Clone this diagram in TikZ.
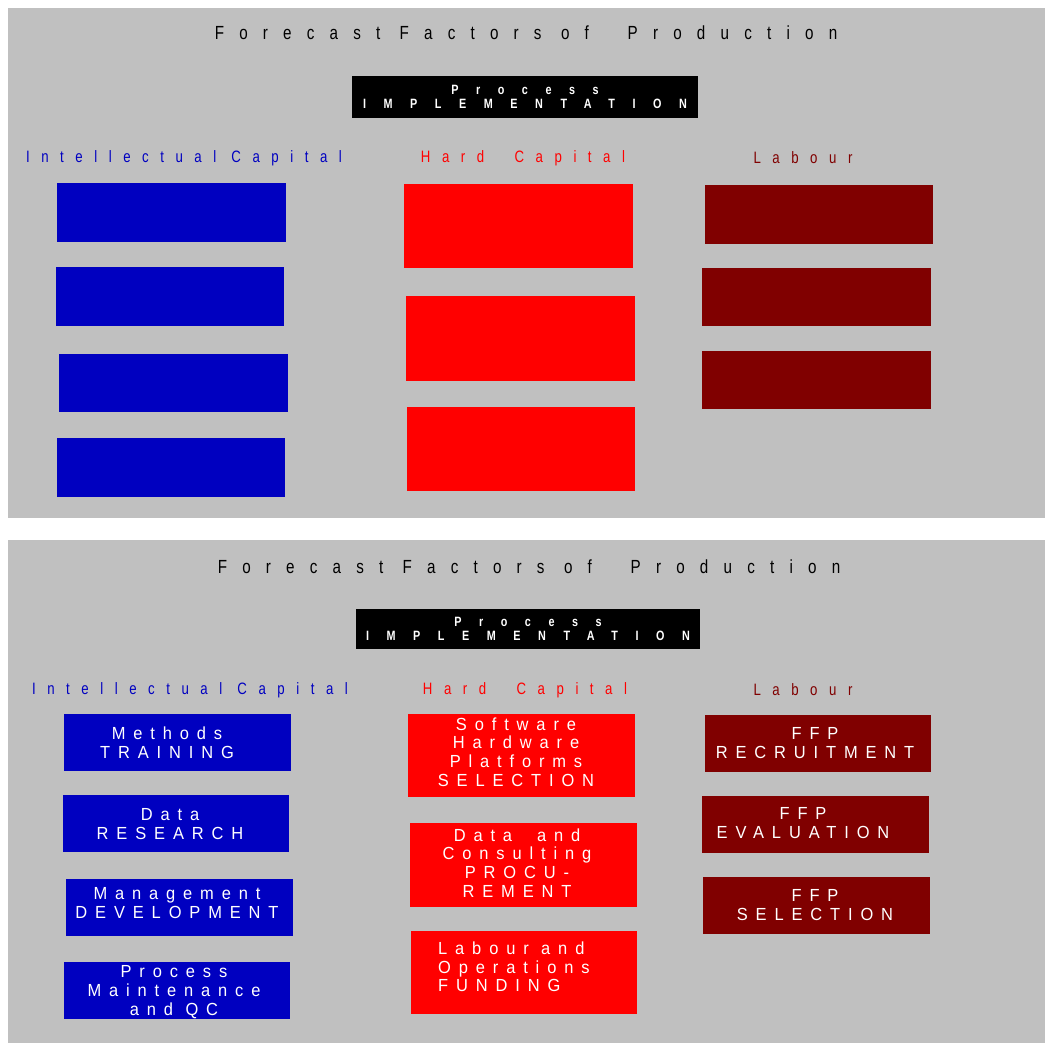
\documentclass[tikz,border=0pt]{standalone}
\usepackage{fontspec}
\setmainfont{Liberation Sans}
\newfontfamily\titlefont[LetterSpace=80,FakeStretch=0.8]{Liberation Sans}
\newfontfamily\headfont[LetterSpace=70,FakeStretch=0.8]{Liberation Sans}
\newfontfamily\procfont[LetterSpace=130,FakeStretch=0.8]{Liberation Sans}
\newfontfamily\boxfont[LetterSpace=45,FakeStretch=0.94]{Liberation Sans}
\definecolor{panelgray}{HTML}{C0C0C0}
\definecolor{icblue}{HTML}{0000C0}
\definecolor{hcred}{HTML}{FF0000}
\definecolor{lbred}{HTML}{800000}
\begin{document}
\begin{tikzpicture}[x=1pt, y=-1pt,
  panel/.style={fill=panelgray},
  title/.style={inner sep=0pt, font=\titlefont\fontsize{19}{22}\selectfont},
  head/.style={inner sep=0pt, font=\headfont\fontsize{16.5}{19}\selectfont},
  procbox/.style={fill=black, text=white, align=center, inner sep=0pt,
    font=\procfont\bfseries\fontsize{13.5}{14}\selectfont},
  fbox/.style={anchor=north west, inner sep=0pt},
  icbox/.style={fbox, fill=icblue},
  hcbox/.style={fbox, fill=hcred},
  lbbox/.style={fbox, fill=lbred},
  boxtxt/.style={text=white, align=center, inner sep=0pt,
    font=\boxfont\fontsize{17.5}{18.7}\selectfont}]
  \fill[white] (0,0) rectangle (1045,1043);
  \useasboundingbox (0,0) rectangle (1045,1043);
  % upper panel: empty boxes
  \fill[panel] (8,8) rectangle (1045,518);
  \node[title] (ttlA) at (526,33) {Forecast Factors of\ \ Production};
  \node[procbox, minimum width=346, minimum height=42] (procA) at (525,97) {Process\\IMPLEMENTATION};
  \node[head, text=icblue] (icA) at (184,158) {Intellectual Capital};
  \node[head, text=hcred] (hcA) at (523,158) {Hard\ \ Capital};
  \node[head, text=lbred] (lbA) at (803,158) {Labour};
  \node[icbox, minimum width=229, minimum height=59] (icA1) at (57,183) {};
  \node[icbox, minimum width=228, minimum height=59] (icA2) at (56,267) {};
  \node[icbox, minimum width=229, minimum height=58] (icA3) at (59,354) {};
  \node[icbox, minimum width=228, minimum height=59] (icA4) at (57,438) {};
  \node[hcbox, minimum width=229, minimum height=84] (hcA1) at (404,184) {};
  \node[hcbox, minimum width=229, minimum height=85] (hcA2) at (406,296) {};
  \node[hcbox, minimum width=228, minimum height=84] (hcA3) at (407,407) {};
  \node[lbbox, minimum width=228, minimum height=59] (lbA1) at (705,185) {};
  \node[lbbox, minimum width=229, minimum height=58] (lbA2) at (702,268) {};
  \node[lbbox, minimum width=229, minimum height=58] (lbA3) at (702,351) {};
  % lower panel: labelled boxes
  \fill[panel] (8,540) rectangle (1045,1043);
  \node[title] (ttlB) at (529,567) {Forecast Factors of\ \ Production};
  \node[procbox, minimum width=344, minimum height=40] (procB) at (528,629) {Process\\IMPLEMENTATION};
  \node[head, text=icblue] (icB) at (190,690) {Intellectual Capital};
  \node[head, text=hcred] (hcB) at (525,690) {Hard\ \ Capital};
  \node[head, text=lbred] (lbB) at (803,690) {Labour};
  \node[icbox, minimum width=227, minimum height=57] (icB1) at (64,714) {};
  \node[icbox, minimum width=226, minimum height=57] (icB2) at (63,795) {};
  \node[icbox, minimum width=227, minimum height=57] (icB3) at (66,879) {};
  \node[icbox, minimum width=226, minimum height=57] (icB4) at (64,962) {};
  \node[hcbox, minimum width=227, minimum height=83] (hcB1) at (408,714) {};
  \node[hcbox, minimum width=227, minimum height=84] (hcB2) at (410,823) {};
  \node[hcbox, minimum width=226, minimum height=83] (hcB3) at (411,931) {};
  \node[lbbox, minimum width=226, minimum height=57] (lbB1) at (705,715) {};
  \node[lbbox, minimum width=227, minimum height=57] (lbB2) at (702,796) {};
  \node[lbbox, minimum width=227, minimum height=57] (lbB3) at (703,877) {};
  \node[boxtxt] (icB1t) at (167,743) {Methods\\TRAINING};
  \node[boxtxt] (icB2t) at (170,824) {Data\\RESEARCH};
  \node[boxtxt] (icB3t) at (177,903) {Management\\DEVELOPMENT};
  \node[boxtxt] (icB4t) at (174,992) {Process\\Maintenance\\and QC};
  \node[boxtxt] (hcB1t) at (516,752) {Software\\Hardware\\Platforms\\SELECTION};
  \node[boxtxt] (hcB2t) at (517,863) {Data\ \ and\\Consulting\\PROCU-\\REMENT};
  \node[boxtxt, align=left, anchor=west] (hcB3t) at (438,967) {Labour and\\Operations\\FUNDING};
  \node[boxtxt] (lbB1t) at (815,743) {FFP\\RECRUITMENT};
  \node[boxtxt] (lbB2t) at (803,823) {FFP\\EVALUATION};
  \node[boxtxt] (lbB3t) at (815,905) {FFP\\SELECTION};
\end{tikzpicture}
\end{document}
